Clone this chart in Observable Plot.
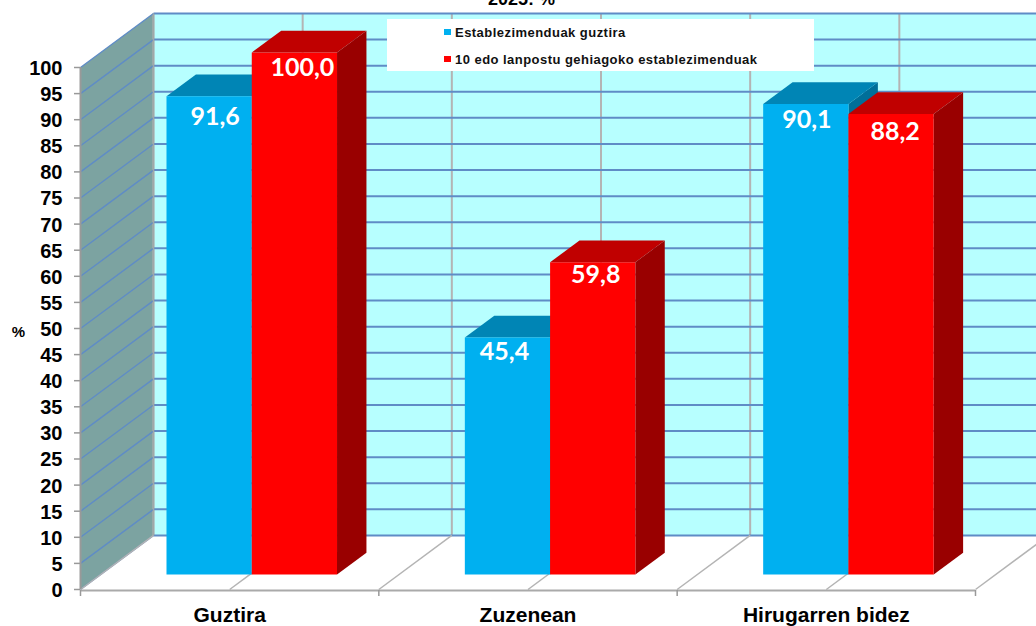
<!DOCTYPE html>
<html><head><meta charset="utf-8">
<script src="https://cdn.jsdelivr.net/npm/d3@7"></script>
<script src="https://cdn.jsdelivr.net/npm/@observablehq/plot@0.6"></script>
<style>
html,body{margin:0;padding:0;background:#fff;overflow:hidden}
#wrap{position:relative;width:1036px;height:626px;overflow:hidden}
svg{display:block}
#title{position:absolute;left:0;top:-11px;width:1036px;text-align:center;font:700 18px "Liberation Sans",Arial,sans-serif;color:#000;box-sizing:border-box;padding-left:7px}
#legend{position:absolute;left:387px;top:19px;width:427px;height:52px;background:#fff;font:700 13px "Liberation Sans",Arial,sans-serif;color:#111}
#legend div{position:absolute;left:57px;white-space:nowrap;letter-spacing:.46px}
#legend i{display:inline-block;width:7px;height:6px;margin-right:4px;position:relative;top:-2px}
</style></head><body>
<div id="wrap">
<div id="chart"></div>
<div id="title">2025: %</div>
<div id="legend"></div>
</div>
<script>
const categories = ["Guztira","Zuzenean","Hirugarren bidez"];
const seriesNames = ["Establezimenduak guztira","10 edo lanpostu gehiagoko establezimenduak"];
const allEstablishments = [91.6,45.4,90.1];
const tenOrMore = [100.0,59.8,88.2];
const yTicks = d3.range(0,101,5);

// Appearance / 3D layout constants
const depthX = 0.2447, depthY = 10.35;
const zFront = 0.279, zBack = 0.682;
const barStart = 0.22, barWidth = 0.2858;
const colors = [
  {front:"#00B0F0",top:"#0085B5",side:"#006F99"},
  {front:"#FF0000",top:"#C00000",side:"#990000"}
];
const labelNudge = [[[6,21],[-3,15],[1,16]],[[8,16],[3,13],[4,18]]];
const wallBlue = "#5F8CC6", gray = "#B4B4B4";

const P = (x,y,z=0) => ({px:x+z*depthX, py:y+z*depthY});
const poly = (pts,fill,id) => pts.map(p => ({...p,fill,id}));

const faces = [];
const labels = [];
let fid = 0;
categories.forEach((c,i) => {
  [allEstablishments,tenOrMore].forEach((vals,s) => {
    const v = vals[i], x0 = i+barStart+s*barWidth, x1 = x0+barWidth, col = colors[s];
    faces.push(...poly([P(x1,0,zFront),P(x1,0,zBack),P(x1,v,zBack),P(x1,v,zFront)],col.side,fid++));
    faces.push(...poly([P(x0,v,zFront),P(x0,v,zBack),P(x1,v,zBack),P(x1,v,zFront)],col.top,fid++));
    faces.push(...poly([P(x0,0,zFront),P(x1,0,zFront),P(x1,v,zFront),P(x0,v,zFront)],col.front,fid++));
    const c0 = P((x0+x1)/2,v,zFront);
    labels.push({...c0,text:v.toFixed(1).replace(".",","),dx:labelNudge[s][i][0],dy:labelNudge[s][i][1]});
  });
});

const halves = d3.range(0,3.5,0.5);
const rightEnd = 3.2;
const sideWall = [P(0,0),P(0,0,1),P(0,100,1),P(0,100)];
const backWall = [P(0,0,1),P(rightEnd,0,1),P(rightEnd,100,1),P(0,100,1)];
const floor = [P(0,0),P(rightEnd,0),P(rightEnd,0,1),P(0,0,1)];

const seg = (data,stroke,sw) => Plot.link(data,{x1:d=>d[0].px,y1:d=>d[0].py,x2:d=>d[1].px,y2:d=>d[1].py,stroke,strokeWidth:sw,strokeLinecap:"butt"});

const plot = Plot.plot({
  width:1036,height:626,
  marginLeft:80,marginRight:61,marginTop:67,marginBottom:37,
  x:{type:"linear",domain:[0,3],axis:null},
  y:{type:"linear",domain:[0,100],axis:null},
  style:{background:"#fff",fontFamily:'"Liberation Sans",Arial,sans-serif',overflow:"hidden"},
  marks:[
    Plot.line(backWall,{x:"px",y:"py",fill:"#B7FFFF",stroke:null}),
    Plot.line(sideWall,{x:"px",y:"py",fill:"#7CA3A1",stroke:null}),
    Plot.line(floor,{x:"px",y:"py",fill:"#fff",stroke:null}),
    seg(halves.map(h=>[P(h,0,1),P(h,100,1)]),gray,2),
    seg(yTicks.map(t=>[P(0,t,1),P(rightEnd,t,1)]),wallBlue,2),
    seg(yTicks.map(t=>[P(0,t),P(0,t,1)]),wallBlue,1.4),
    seg(halves.map(h=>[P(h,0),P(h,0,1)]),gray,1.5),
    seg([[P(0,0,1),P(0,100,1)]],"#A0A8A8",1.5),
    Plot.line(faces,{x:"px",y:"py",z:"id",fill:"fill",stroke:null}),
    labels.map(l => Plot.text([l],{x:"px",y:"py",text:"text",dx:l.dx,dy:l.dy,fill:"#fff",fontSize:25,fontWeight:700,fontFamily:"Lato"})),
    Plot.ruleX([0],{y1:0,y2:100,stroke:"#999",strokeWidth:2}),
    Plot.ruleY([0],{x1:0,x2:3,stroke:"#AAA",strokeWidth:2,dy:1}),
    Plot.axisY({ticks:yTicks,tickSize:6,stroke:"#999",strokeWidth:1.5,tickFormat:()=>"",anchor:"left",label:null}),
    Plot.axisY({ticks:yTicks,tickSize:0,tickPadding:18,dy:1,fill:"#000",anchor:"left",tickFormat:d=>String(d),fontSize:20,fontWeight:700,label:null}),
    Plot.axisX({ticks:[0,1,2,3],tickSize:6,stroke:"#999",strokeWidth:1.5,tickFormat:()=>"",anchor:"bottom",dy:1,label:null}),
    Plot.text(categories,{x:(d,i)=>i+0.5,y:0,text:d=>d,dy:26,fontSize:21,fontWeight:700,fill:"#000",lineAnchor:"middle"}),
    Plot.text(["%"],{x:0,y:50,dx:-62,dy:4,fontSize:15,fontWeight:700,fill:"#000"})
  ]
});
document.getElementById("chart").appendChild(plot);

const leg = document.getElementById("legend");
seriesNames.forEach((n,i)=>{
  const d=document.createElement("div");
  d.style.top=(i?33:6)+"px";
  d.innerHTML=`<i style="background:${colors[i].front}"></i>${n}`;
  leg.appendChild(d);
});
</script>
</body></html>
